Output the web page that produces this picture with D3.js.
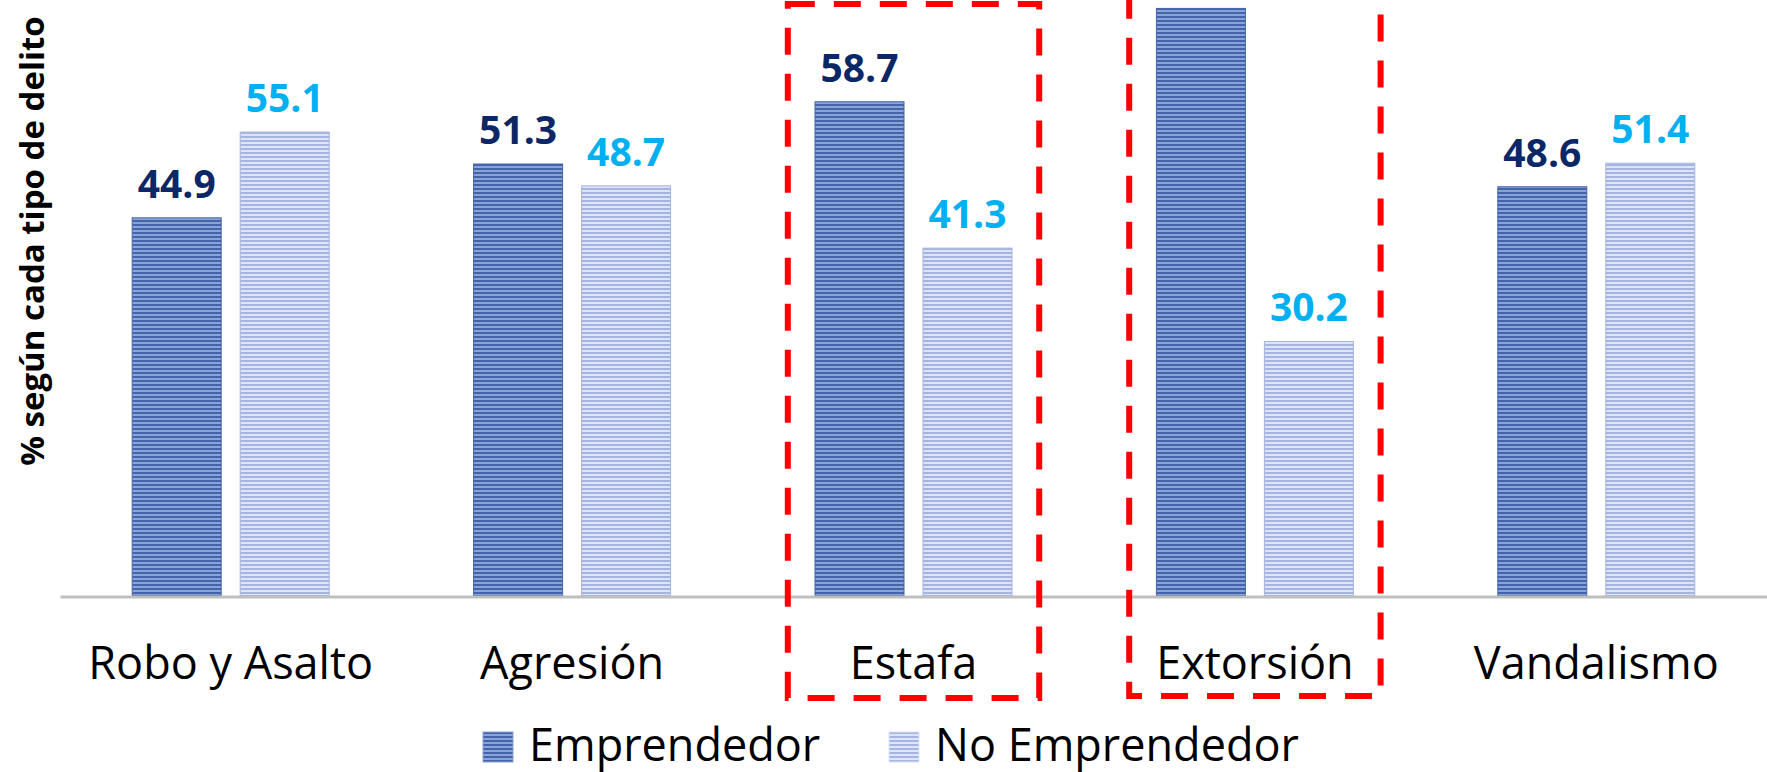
<!DOCTYPE html>
<html>
<head>
<meta charset="utf-8">
<script src="https://cdn.jsdelivr.net/npm/d3@7"></script>
<style>
    body { margin: 0; background: #fff; }
</style>
</head>
<body>
<script>
const width = 1767;
const height = 772;

// datos del grafico
const categorias = ["Robo y Asalto", "Agresión", "Estafa", "Extorsión", "Vandalismo"];
const series = ["Emprendedor", "No Emprendedor"];
const emprendedor = [44.9, 51.3, 58.7, 69.8, 48.6];
const noEmprendedor = [55.1, 48.7, 41.3, 30.2, 51.4];
const destacadas = ["Estafa", "Extorsión"];
const tituloY = "% según cada tipo de delito";

// colores: [raya oscura, raya clara, etiqueta]
const estilos = {
    "Emprendedor": ["#4464a9", "#8ba3d5", "#0b2766"],
    "No Emprendedor": ["#a5b4e0", "#dde4f5", "#00b0f0"]
};

let svg = d3.select("body").append("svg")
    .attr("width", width)
    .attr("height", height);

// patrones de rayas horizontales
let defs = svg.append("defs");
series.forEach((s, i) => {
    let p = defs.append("pattern")
        .attr("id", "rayas" + i)
        .attr("patternUnits", "userSpaceOnUse")
        .attr("width", 8)
        .attr("height", 4);
    p.append("rect").attr("width", 8).attr("height", 4).attr("fill", estilos[s][1]);
    p.append("rect").attr("width", 8).attr("height", 2).attr("fill", estilos[s][0]);
});

// escalas
let x0 = d3.scaleBand()
    .domain(categorias)
    .range([60, width]);

let grupo = 197;
let x1 = d3.scaleBand()
    .domain(series)
    .range([0, grupo])
    .paddingInner(0.176);

let y = d3.scaleLinear()
    .domain([0, 70.8])
    .range([595.5, 0]);

let desplaza = (x0.bandwidth() - grupo) / 2;

let filas = categorias.flatMap((c, i) => [
    { cat: c, serie: series[0], valor: emprendedor[i] },
    { cat: c, serie: series[1], valor: noEmprendedor[i] }
]);

// barras
svg.selectAll("rect.barra")
    .data(filas)
    .enter()
    .append("rect")
    .attr("class", "barra")
    .attr("x", d => x0(d.cat) + desplaza + x1(d.serie))
    .attr("y", d => y(d.valor))
    .attr("width", x1.bandwidth())
    .attr("height", d => y(0) - y(d.valor))
    .attr("fill", d => "url(#rayas" + series.indexOf(d.serie) + ")")
    .attr("stroke", d => estilos[d.serie][0])
    .attr("stroke-width", 1);

// etiquetas de valores (la que no cabe arriba queda fuera, como en el original)
svg.selectAll("text.valor")
    .data(filas.filter(d => y(d.valor) - 20 - 28 > 0))
    .enter()
    .append("text")
    .attr("class", "valor")
    .attr("x", d => x0(d.cat) + desplaza + x1(d.serie) + x1.bandwidth() / 2)
    .attr("y", d => y(d.valor) - 20)
    .attr("text-anchor", "middle")
    .attr("font-family", "'Open Sans', sans-serif")
    .attr("font-weight", "bold")
    .attr("font-size", 39)
    .attr("fill", d => estilos[d.serie][2])
    .text(d => d.valor.toFixed(1));

// eje x
let ejeX = svg.append("g")
    .attr("transform", "translate(0," + (y(0) + 1) + ")")
    .call(d3.axisBottom(x0).tickSize(0).tickSizeOuter(0));

ejeX.select(".domain")
    .attr("stroke", "#bfbfbf")
    .attr("stroke-width", 3);

ejeX.selectAll("text")
    .attr("y", 82)
    .attr("dy", 0)
    .attr("font-family", "'Open Sans', sans-serif")
    .attr("font-size", 45)
    .attr("fill", "#000");

// titulo eje y
svg.append("text")
    .attr("transform", "translate(44,241) rotate(-90)")
    .attr("text-anchor", "middle")
    .attr("font-family", "'Open Sans', sans-serif")
    .attr("font-weight", "bold")
    .attr("font-size", 33)
    .attr("fill", "#000")
    .text(tituloY);

// cuadros rojos punteados
svg.selectAll("rect.marco")
    .data(destacadas)
    .enter()
    .append("rect")
    .attr("class", "marco")
    .attr("x", d => x0(d) + 45)
    .attr("y", d => d === "Estafa" ? 4 : -10)
    .attr("width", x0.bandwidth() - 90)
    .attr("height", d => d === "Estafa" ? 694 : 706)
    .attr("fill", "none")
    .attr("stroke", "#ff0000")
    .attr("stroke-width", 6)
    .attr("stroke-dasharray", "27,19");

// leyenda
let leyendaX = [483, 889];
let leyenda = svg.selectAll("g.leyenda")
    .data(series)
    .enter()
    .append("g")
    .attr("class", "leyenda")
    .attr("transform", (d, i) => "translate(" + leyendaX[i] + ",732)");

leyenda.append("rect")
    .attr("width", 30)
    .attr("height", 30)
    .attr("fill", (d, i) => "url(#rayas" + i + ")")
    .attr("stroke", d => estilos[d][1])
    .attr("stroke-width", 1);

leyenda.append("text")
    .attr("x", 46)
    .attr("y", 29)
    .attr("font-family", "'Open Sans', sans-serif")
    .attr("font-size", 45)
    .attr("fill", "#000")
    .text(d => d);
</script>
</body>
</html>
